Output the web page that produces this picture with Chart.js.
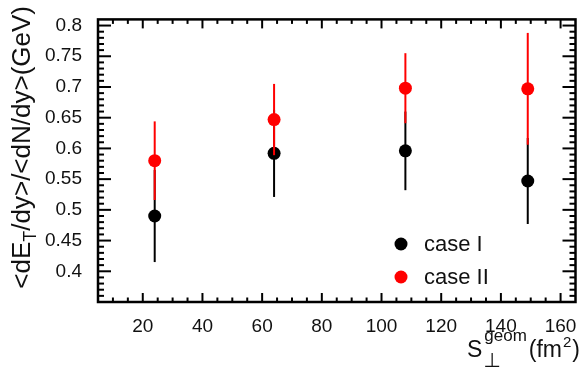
<!DOCTYPE html>
<html>
<head>
<meta charset="utf-8">
<script src="https://cdn.jsdelivr.net/npm/chart.js@4.4.1/dist/chart.umd.min.js"></script>
<style>
  html, body { margin: 0; padding: 0; background: #fff; }
  canvas { display: block; }
</style>
</head>
<body>
<canvas id="c" width="582" height="373"></canvas>
<script>
// Transverse overlap area (fm^2) for each centrality class
const overlapArea = [24, 64, 108, 149];
// <dE_T/dy>/<dN/dy> (GeV) with symmetric uncertainties
const caseI = [0.490, 0.592, 0.596, 0.547];
const caseIErr = [0.075, 0.071, 0.064, 0.070];
const caseII = [0.580, 0.647, 0.698, 0.697];
const caseIIErr = [0.064, 0.058, 0.057, 0.091];
const seriesNames = ['case I', 'case II'];
const seriesColors = ['#000000', '#ff0000'];

const xTicks = [20, 40, 60, 80, 100, 120, 140, 160];
const yTicks = [0.4, 0.45, 0.5, 0.55, 0.6, 0.65, 0.7, 0.75, 0.8];
const xRange = [5, 165];
const yRange = [0.35, 0.81];

const FONT = "'Liberation Sans', Arial, Helvetica, sans-serif";
Chart.defaults.font.family = FONT;
Chart.defaults.color = '#000';

function toPoints(xs, ys) { return xs.map((x, i) => ({ x: x, y: ys[i] })); }

// vertical error bars, drawn just before each dataset's markers
const errorBars = {
  id: 'errorBars',
  beforeDatasetDraw(chart, args) {
    const ds = chart.data.datasets[args.index];
    if (!ds.errors) return;
    const { ctx, scales: { x, y } } = chart;
    ctx.save();
    ctx.strokeStyle = ds.backgroundColor;
    ctx.lineWidth = 2;
    ds.data.forEach((p, i) => {
      const px = x.getPixelForValue(p.x);
      ctx.beginPath();
      ctx.moveTo(px, y.getPixelForValue(p.y - ds.errors[i]));
      ctx.lineTo(px, y.getPixelForValue(p.y + ds.errors[i]));
      ctx.stroke();
    });
    ctx.restore();
  }
};

function minorValues(lo, hi, step) {
  const out = [];
  const n = Math.round((hi - lo) / step);
  for (let i = 0; i <= n; i++) out.push(lo + i * step);
  return out;
}

// frame with inward ticks on all four sides, axis titles and legend
const frame = {
  id: 'frame',
  afterDraw(chart) {
    const { ctx, chartArea: a, scales: { x, y } } = chart;
    ctx.save();
    ctx.strokeStyle = '#000';
    ctx.lineWidth = 2;
    ctx.lineCap = 'butt';
    const line = (x1, y1, x2, y2) => { ctx.beginPath(); ctx.moveTo(x1, y1); ctx.lineTo(x2, y2); ctx.stroke(); };

    // x ticks (bottom and top)
    minorValues(xRange[0], xRange[1], 5).forEach(v => {
      const px = x.getPixelForValue(v);
      const major = xTicks.includes(v);
      const len = major ? 9 : 4.5;
      if (px <= a.left + 1 || px >= a.right - 1) return;
      line(px, a.bottom, px, a.bottom - len);
      line(px, a.top, px, a.top + len);
    });
    // y ticks (left and right)
    minorValues(yRange[0], yRange[1], 0.01).forEach(v => {
      const py = y.getPixelForValue(v);
      const major = yTicks.some(t => Math.abs(t - v) < 1e-6);
      const len = major ? 13 : 6;
      if (py <= a.top + 1 || py >= a.bottom - 1) return;
      line(a.left, py, a.left + len, py);
      line(a.right, py, a.right - len, py);
    });
    ctx.lineWidth = 2.5;
    ctx.strokeRect(a.left, a.top, a.right - a.left, a.bottom - a.top);

    ctx.fillStyle = '#111';
    ctx.textAlign = 'left';
    ctx.textBaseline = 'alphabetic';

    // x title: S_perp^geom (fm^2), right-aligned
    ctx.font = '23px ' + FONT;
    const wS = ctx.measureText('S').width;
    ctx.font = '17px ' + FONT;
    const wGeom = ctx.measureText('geom').width;
    ctx.font = '23px ' + FONT;
    const wFm = ctx.measureText('(fm').width;
    const wClose = ctx.measureText(')').width;
    ctx.font = '15px ' + FONT;
    const wTwo = ctx.measureText('2').width;
    const total = wS + 2 + wGeom + 2 + wFm + 1 + wTwo + 1 + wClose;
    let cx = 580 - total;
    ctx.font = '23px ' + FONT; ctx.fillText('S', cx, 357); cx += wS + 2;
    ctx.font = '17px ' + FONT; ctx.fillText('geom', cx, 341);
    ctx.font = "20px 'DejaVu Sans', sans-serif"; ctx.fillText('\u22A5', cx - 1, 367);
    cx += wGeom + 2;
    ctx.font = '23px ' + FONT; ctx.fillText('(fm', cx, 357); cx += wFm + 1;
    ctx.font = '15px ' + FONT; ctx.fillText('2', cx, 347); cx += wTwo + 1;
    ctx.font = '23px ' + FONT; ctx.fillText(')', cx, 357);

    // y title: <dE_T/dy>/<dN/dy>(GeV), rotated, ending near the top
    const yRunsDef = [
      { t: '<dE', f: '26px ' + FONT, dy: 0 },
      { t: 'T', f: '18px ' + FONT, dy: 6 },
      { t: '/dy>/<dN/dy>(GeV)', f: '26px ' + FONT, dy: 0 }
    ];
    let yTotal = 0;
    yRunsDef.forEach(r => { ctx.font = r.f; r.w = ctx.measureText(r.t).width; yTotal += r.w; });
    ctx.save();
    ctx.translate(30, 0);
    ctx.rotate(-Math.PI / 2);
    let tx = -6 - yTotal;
    yRunsDef.forEach(r => { ctx.font = r.f; ctx.fillText(r.t, tx, r.dy); tx += r.w; });
    ctx.restore();

    // legend
    const legendY = [244, 277];
    chart.data.datasets.forEach((ds, i) => {
      ctx.fillStyle = ds.backgroundColor;
      ctx.beginPath();
      ctx.arc(401, legendY[i], 6.5, 0, Math.PI * 2);
      ctx.fill();
      ctx.fillStyle = '#111';
      ctx.font = '22px ' + FONT;
      ctx.textBaseline = 'middle';
      ctx.fillText(ds.label, 424, legendY[i] + 0.5);
    });
    ctx.restore();
  }
};

new Chart(document.getElementById('c'), {
  type: 'scatter',
  data: {
    datasets: [
      { label: seriesNames[0], data: toPoints(overlapArea, caseI), errors: caseIErr,
        backgroundColor: seriesColors[0], borderWidth: 0, pointRadius: 6.5, pointHoverRadius: 6.5, order: 2 },
      { label: seriesNames[1], data: toPoints(overlapArea, caseII), errors: caseIIErr,
        backgroundColor: seriesColors[1], borderWidth: 0, pointRadius: 6.5, pointHoverRadius: 6.5, order: 1 }
    ]
  },
  options: {
    responsive: false,
    animation: false,
    devicePixelRatio: 1,
    events: [],
    layout: { padding: { left: 0, right: 3, top: 5, bottom: 0 } },
    plugins: { legend: { display: false }, tooltip: { enabled: false } },
    scales: {
      x: {
        type: 'linear', min: xRange[0], max: xRange[1],
        grid: { display: false }, border: { display: false },
        afterBuildTicks: s => { s.ticks = xTicks.map(v => ({ value: v })); },
        afterFit: s => { s.height = 71; },
        ticks: { font: { size: 19 }, color: '#111', padding: 5, maxRotation: 0, autoSkip: false,
                 callback: v => String(v) }
      },
      y: {
        type: 'linear', min: yRange[0], max: yRange[1],
        grid: { display: false }, border: { display: false },
        afterBuildTicks: s => { s.ticks = yTicks.map(v => ({ value: v })); },
        afterFit: s => { s.width = 98; },
        ticks: { font: { size: 19 }, color: '#111', padding: 8, autoSkip: false,
                 callback: v => String(Number(v.toFixed(2))) }
      }
    }
  },
  plugins: [errorBars, frame]
});
</script>
</body>
</html>
